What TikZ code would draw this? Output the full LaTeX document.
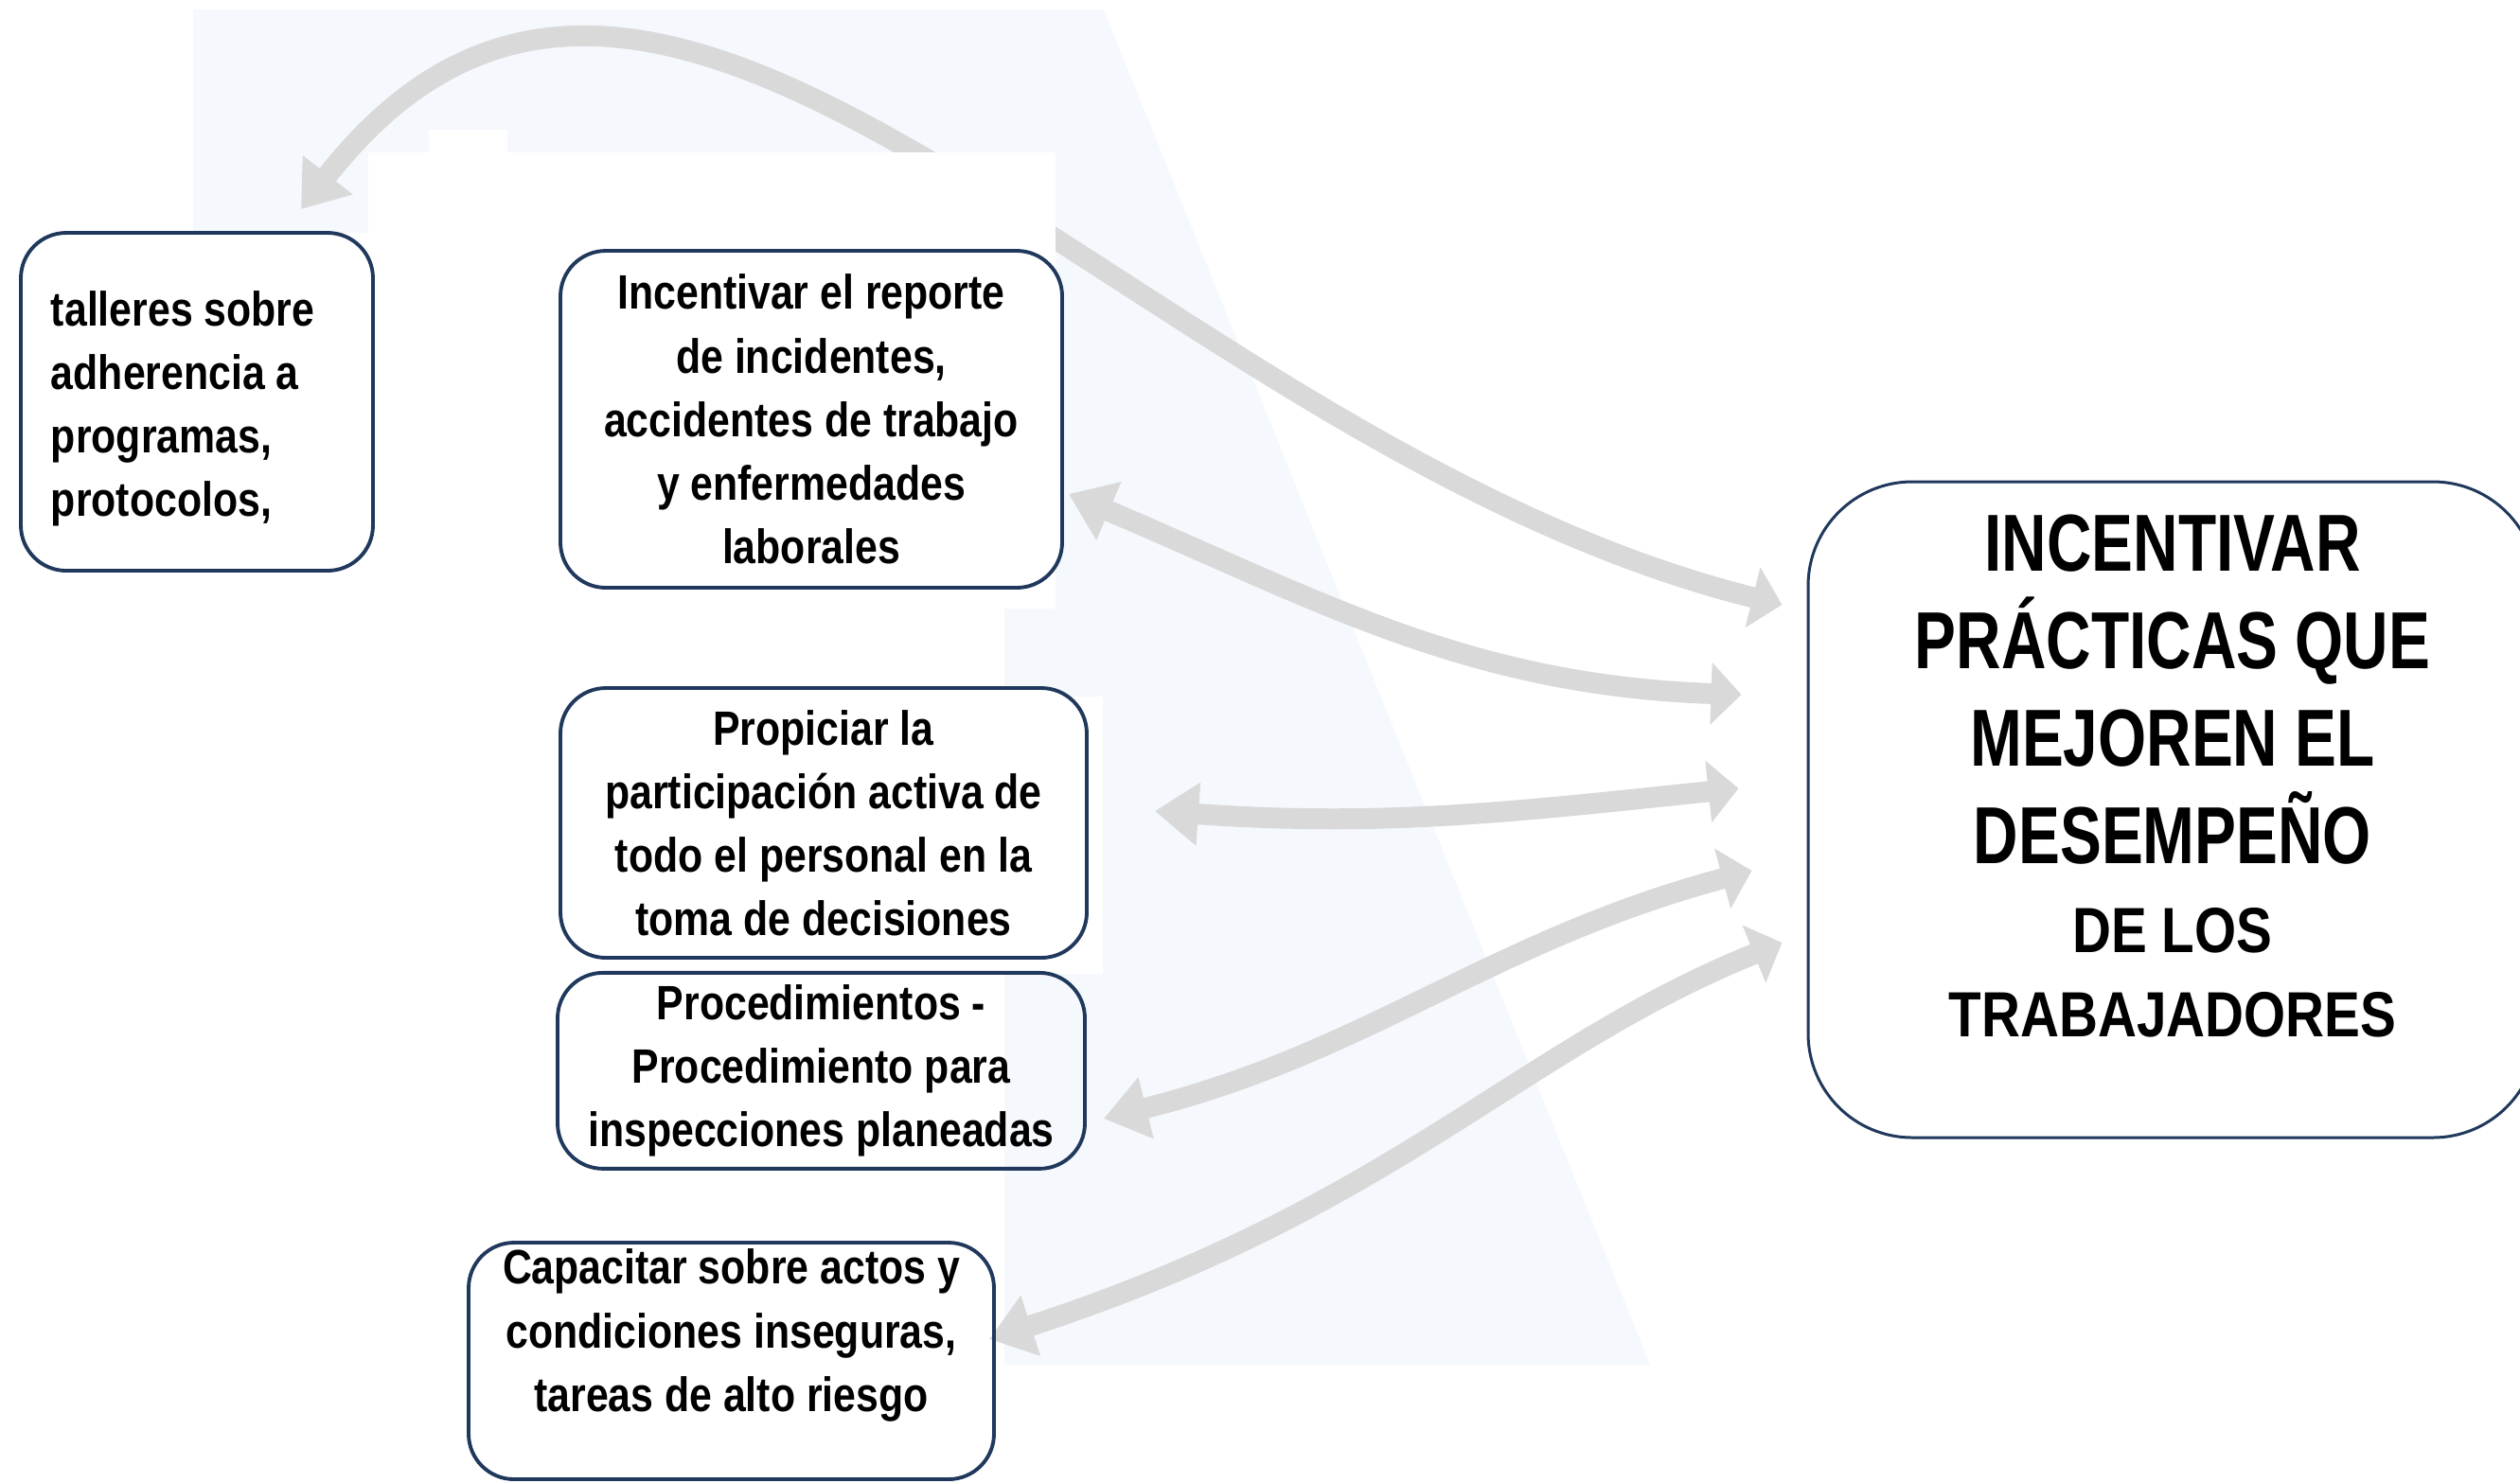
\documentclass[tikz,border=0pt]{standalone}
\usepackage{fontspec}
\usepackage{tikz}
\usetikzlibrary{arrows.meta, positioning, backgrounds}
\newfontfamily\boxfont{Liberation Sans}[FakeStretch=0.84]
\newfontfamily\headfont{Liberation Sans}[FakeStretch=0.77]
\definecolor{boxnavy}{RGB}{31, 56, 92}
\definecolor{arrowgray}{RGB}{217, 217, 217}
\definecolor{paleblue}{RGB}{245, 248, 252}

\begin{document}
\begin{tikzpicture}[
  node distance=0.12cm,
  ibox/.style={rectangle, rounded corners=0.48cm, draw=boxnavy, line width=1.1pt, inner sep=0pt,
               align=center, font=\boxfont\bfseries\fontsize{14.5}{19.1}\selectfont},
  link/.style={arrows={Triangle[length=0.46cm, width=0.64cm]-Triangle[length=0.32cm, width=0.64cm]},
               line width=0.22cm, color=arrowgray}
]
\useasboundingbox (0,0) rectangle (26.62,-15.66);

\node[ibox, fill=white, align=flush left, text width=3.08cm, inner xsep=0.32cm, minimum height=3.57cm, text height=0.51cm] (talleres) at (2.08,-4.245)
  {talleres sobre\\ adherencia a\\ programas,\\ protocolos,};
\node[ibox, fill=white, minimum width=5.30cm, minimum height=3.56cm] (reporte) at (8.57,-4.43)
  {Incentivar el reporte\\ de incidentes,\\ accidentes de trabajo\\ y enfermedades\\ laborales};
\node[ibox, fill=white, minimum width=5.56cm, minimum height=2.85cm] (propiciar) at (8.70,-8.695)
  {Propiciar la\\ participación activa de\\ todo el personal en la\\ toma de decisiones};
\node[ibox, minimum width=5.57cm, minimum height=2.07cm, below=of propiciar, xshift=-0.025cm] (procedimientos)
  {Procedimientos -\\ Procedimiento para\\ inspecciones planeadas};
\node[ibox, minimum width=5.55cm, minimum height=2.50cm, text depth=0.65cm] (capacitar) at (7.725,-14.38)
  {Capacitar sobre actos y\\ condiciones inseguras,\\ tareas de alto riesgo};

\node[draw=boxnavy, line width=0.85pt, rounded corners=1.1cm, minimum width=7.70cm, minimum height=6.93cm, inner sep=0pt] (main) at (22.95,-8.555) {};
\node[inner sep=0pt, align=center, font=\headfont\bfseries\fontsize{24.3}{29.3}\selectfont] (maintitle) at ([yshift=0.355cm]main.center)
  {INCENTIVAR\\ PRÁCTICAS QUE\\ MEJOREN EL\\ DESEMPEÑO\\[-2.3pt]
   {\boxfont\fontsize{19.2}{24}\selectfont DE LOS}\\[-4pt]
   {\boxfont\fontsize{19.2}{24}\selectfont TRABAJADORES}};

\coordinate (a1s) at ([shift={(-0.78,0.23)}]talleres.north east);
\coordinate (a2s) at ([shift={(0.05,-0.79)}]reporte.east);
\coordinate (a3s) at ([shift={(0.70,0.125)}]propiciar.east);
\coordinate (a4s) at ([shift={(0.18,-0.505)}]procedimientos.east);
\coordinate (a5s) at ([shift={(-0.07,0.23)}]capacitar.east);
\coordinate (a1e) at ([shift={(-0.26,2.165)}]main.west);
\coordinate (a2e) at ([shift={(-0.69,1.215)}]main.west);
\coordinate (a3e) at ([shift={(-0.72,0.225)}]main.west);
\coordinate (a4e) at ([shift={(-0.58,-0.645)}]main.west);
\coordinate (a5e) at ([shift={(-0.26,-1.405)}]main.west);

\begin{scope}[on background layer]
\fill[paleblue] (2.04,-0.10) -- (11.66,-0.10) -- (17.43,-14.42) -- (10.61,-14.42) -- (10.61,-2.46) -- (2.04,-2.46) -- cycle;
\draw[link] (a1s) .. controls +(52:6.3) and +(166:7) .. (a1e);
\draw[link] (a2s) to[out=-23, in=178] (a2e);
\draw[link] (a3s) to[out=-4, in=186] (a3e);
\draw[link] (a4s) to[out=14, in=195] (a4e);
\draw[link] (a5s) .. controls +(18:4.5) and +(202:3) .. (a5e);
\fill[white] (3.89,-1.61) rectangle (11.15,-6.43);
\fill[white] (4.53,-1.37) rectangle (5.36,-1.66);
\fill[white] (10.61,-7.36) rectangle (11.65,-10.29);
\end{scope}

\end{tikzpicture}
\end{document}
